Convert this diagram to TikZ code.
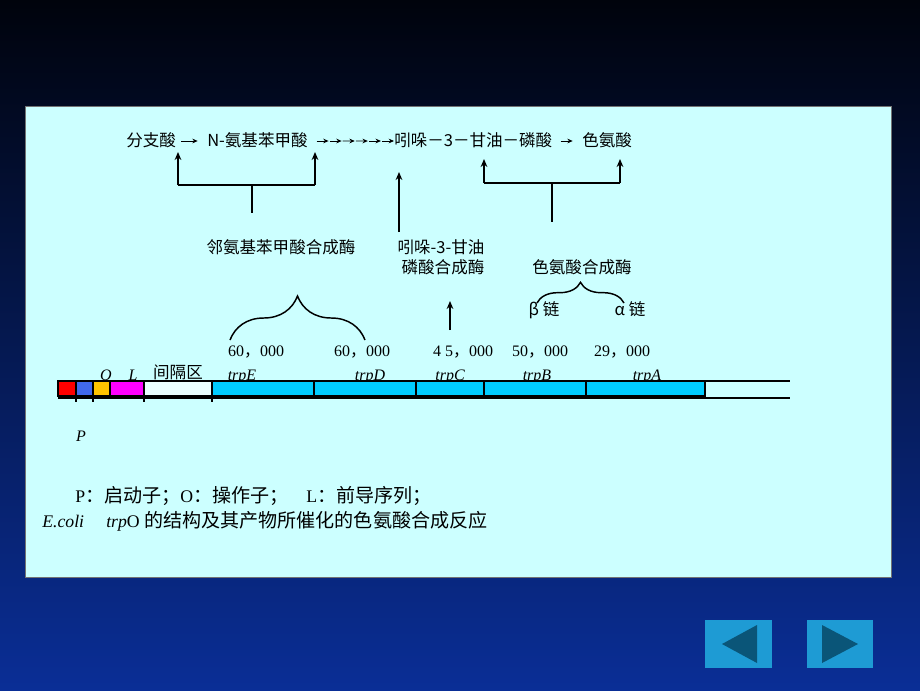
\documentclass[tikz,border=0pt]{standalone}
\usepackage{fontspec}
\setmainfont{Liberation Serif}
\newfontfamily\cjk{Noto Sans CJK SC}
\usetikzlibrary{arrows.meta, decorations.pathreplacing, calc}

\definecolor{slidetop}{RGB}{0,3,12}
\definecolor{slidemid}{RGB}{2,28,92}
\definecolor{slidebot}{RGB}{10,46,150}
\definecolor{panelcyan}{RGB}{204,255,255}
\definecolor{genered}{RGB}{255,0,0}
\definecolor{geneblue}{RGB}{65,105,235}
\definecolor{geneorange}{RGB}{255,196,0}
\definecolor{genemag}{RGB}{255,0,255}
\definecolor{genecyan}{RGB}{0,204,255}
\definecolor{btnblue}{RGB}{30,155,212}
\definecolor{btntri}{RGB}{10,85,120}

\tikzset{
  cn/.style={font=\cjk\fontsize{12.4}{14}\selectfont, inner sep=0pt, text height=9.5pt, text depth=1.5pt},
  lat/.style={font=\fontsize{12}{14}\selectfont, inner sep=0pt},
  gn/.style={font=\itshape\fontsize{12}{14}\selectfont, inner sep=0pt, anchor=base},
  note/.style={font=\fontsize{13.3}{16}\selectfont, inner sep=0pt, anchor=base west},
  flow/.style={line width=0.7pt, -{Stealth[length=4pt,width=3.5pt]}},
  up/.style={line width=1.3pt, -{Stealth[length=6pt,width=5pt]}},
  br/.style={line width=1.3pt},
  curly/.style={line width=1.1pt, decorate, decoration={brace, amplitude=#1}},
  seg/.style={draw=black, line width=0.8pt},
}
\newcommand{\notecn}[1]{{\cjk\fontsize{14.3}{16}\selectfont #1}}

\begin{document}
\begin{tikzpicture}[x=0.75pt,y=-0.75pt]
\useasboundingbox (0,0) rectangle (920,690);
% slide background
\shade[top color=slidetop, middle color=slidemid, bottom color=slidebot] (0,0) rectangle (920,690);
\draw[fill=panelcyan, draw=black!55, line width=0.6pt] (25,106) rectangle (891,577);

% pathway
\node[cn, anchor=west] (chor) at (126,141) {分支酸};
\node[cn, anchor=west] (anth) at (207,141) {N-氨基苯甲酸};
\node[cn, anchor=west] (igp) at (394,141) {吲哚－3－甘油－磷酸};
\node[cn, anchor=west] (trp) at (582,141) {色氨酸};
\draw[flow] ([xshift=4pt]chor.east) -- ([xshift=-7pt]anth.west);
\foreach \i in {0,...,5}
  \draw[flow] ($(anth.east)!\i*0.152+0.1!(igp.west)$) -- ($(anth.east)!\i*0.152+0.24!(igp.west)$);
\draw[flow] ([xshift=6pt]igp.east) -- ([xshift=-7pt]trp.west);

% enzymes
\node[cn] (enzE) at (281,248) {邻氨基苯甲酸合成酶};
\node[cn] (enzCa) at (441,248) {吲哚-3-甘油};
\node[cn] (enzCb) at (443,268) {磷酸合成酶};
\node[cn] (enzAB) at (582,268) {色氨酸合成酶};
\node[cn] (beta) at (544,310) {β 链};
\node[cn] (alpha) at (630,310) {α 链};

% brackets to the steps
\coordinate (e1) at (178,185);
\coordinate (e2) at (315,185);
\draw[up] (e1) -- (178,152);
\draw[up] (e2) -- (315,152);
\draw[br] (e1) -- (e2);
\draw[br] (252,185) -- (252,213);
\draw[up] (399,232) -- (399,172);
\coordinate (a1) at (484,183);
\coordinate (a2) at (620,183);
\draw[up] (a1) -- (484,159);
\draw[up] (a2) -- (620,159);
\draw[br] (a1) -- (a2);
\draw[br] (552,183) -- (552,222);
\draw[curly=15.5pt] (537,303) -- (624,303);
\draw[curly=33pt] (230,340) -- (365,340);
\draw[up] (450,330) -- (450,301);

% molecular weights
\node[lat] (mwE) at (256,352) {60{\cjk ，}000};
\node[lat] (mwD) at (362,352) {60{\cjk ，}000};
\node[lat] (mwC) at (463,352) {4 5{\cjk ，}000};
\node[lat] (mwB) at (540,352) {50{\cjk ，}000};
\node[lat] (mwA) at (622,352) {29{\cjk ，}000};

% gene labels
\node[gn] (lO) at (106,380) {O};
\node[gn] (lL) at (133,380) {L};
\node[cn] (lsp) at (178,373) {间隔区};
\node[gn] (lE) at (242,380) {trpE};
\node[gn] (lD) at (370,380) {trpD};
\node[gn] (lC) at (450,380) {trpC};
\node[gn] (lB) at (537,380) {trpB};
\node[gn] (lA) at (647,380) {trpA};

% operon bar
\draw[seg, fill=genered] (58,381) rectangle (76,396);
\draw[seg, fill=geneblue] (76,381) rectangle (93,396);
\draw[seg, fill=geneorange] (93,381) rectangle (110,396);
\draw[seg, fill=genemag] (110,381) rectangle (144,396);
\draw[seg, fill=panelcyan!40!white] (144,381) rectangle (212,396);
\foreach \a/\b in {212/314, 314/416, 416/484, 484/586, 586/705}
  \draw[seg, fill=genecyan] (\a,381) rectangle (\b,396);
\draw[line width=0.9pt] (58,381) -- (790,381);
\draw[line width=0.9pt] (58,398) -- (790,398);
\foreach \t in {76,93,144,212}
  \draw[line width=0.8pt] (\t,396) -- (\t,402);
\node[gn] (lP) at (81,441) {P};

% legend
\node[note] (key) at (75,502) {P\notecn{：启动子；}O\notecn{：操作子；}\quad L\notecn{：前导序列；}};
\node[note] (cap) at (42,527) {\textit{E.coli}\quad\ \textit{trp}O \notecn{的结构及其产物所催化的色氨酸合成反应}};

% navigation buttons
\fill[btnblue] (705,620) rectangle (772,668);
\fill[btntri] (722,644) -- (757,625) -- (757,663) -- cycle;
\fill[btnblue] (807,620) rectangle (873,668);
\fill[btntri] (858,644) -- (822,625) -- (822,663) -- cycle;
\end{tikzpicture}
\end{document}
